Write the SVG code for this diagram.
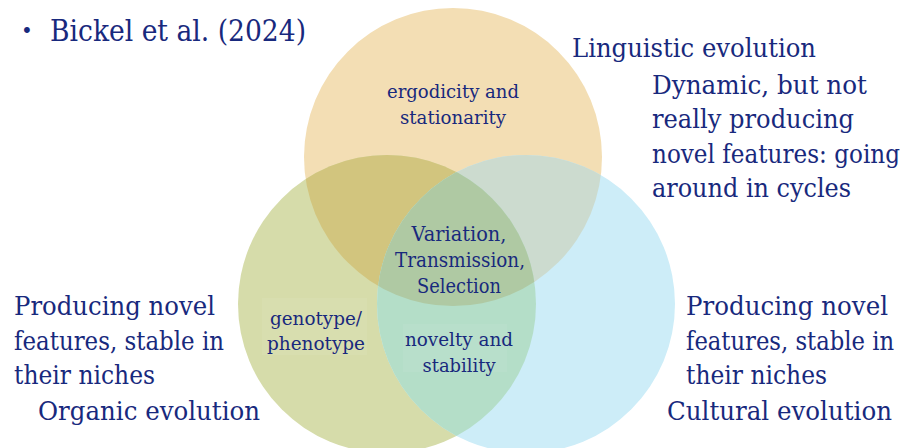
<svg xmlns="http://www.w3.org/2000/svg" width="910" height="448" viewBox="0 0 910 448">
  <style>
    text { font-family: 'DejaVu Serif', 'Liberation Serif', 'Noto Serif', serif; fill: #18297d; }
    .big { font-size: 26px; }
    .head { font-size: 30px; }
    .mid { font-size: 20px; }
    .small { font-size: 18px; }
    .c { text-anchor: middle; }
  </style>
  <defs>
    <clipPath id="clipTop"><circle cx="453" cy="157" r="149"/></clipPath>
    <clipPath id="clipLeft"><circle cx="387" cy="304" r="149"/></clipPath>
  </defs>
  <rect width="910" height="448" fill="#ffffff"/>

  <!-- Venn circles -->
  <g id="circle-linguistic">
    <circle cx="453" cy="157" r="149" fill="#f3deb4"/>
  </g>
  <g id="circle-organic">
    <circle cx="387" cy="304" r="149" fill="#d6dcaa"/>
  </g>
  <g id="circle-cultural">
    <circle cx="526" cy="304" r="149" fill="#cdedf8"/>
  </g>

  <!-- overlap regions -->
  <g id="overlaps">
    <circle cx="387" cy="304" r="149" fill="#d2c57e" clip-path="url(#clipTop)"/>
    <circle cx="526" cy="304" r="149" fill="#ccdbcf" clip-path="url(#clipTop)"/>
    <circle cx="526" cy="304" r="149" fill="#b4dec8" clip-path="url(#clipLeft)"/>
    <g clip-path="url(#clipTop)">
      <circle cx="526" cy="304" r="149" fill="#afc9a3" clip-path="url(#clipLeft)"/>
    </g>
  </g>

  <!-- faint text boxes -->
  <g id="label-boxes" fill="#ffffff" fill-opacity="0.06">
    <rect x="262" y="298" width="105" height="57"/>
    <rect x="403" y="324" width="104" height="48"/>
  </g>

  <!-- inner labels -->
  <g id="label-linguistic">
    <text class="small c" x="453" y="98" textLength="132" lengthAdjust="spacingAndGlyphs">ergodicity and</text>
    <text class="small c" x="453" y="124" textLength="106" lengthAdjust="spacingAndGlyphs">stationarity</text>
  </g>
  <g id="label-center">
    <text class="mid c" x="459" y="241" textLength="95" lengthAdjust="spacingAndGlyphs">Variation,</text>
    <text class="mid c" x="460" y="267" textLength="130" lengthAdjust="spacingAndGlyphs">Transmission,</text>
    <text class="mid c" x="459" y="293" textLength="84" lengthAdjust="spacingAndGlyphs">Selection</text>
  </g>
  <g id="label-organic">
    <text class="small c" x="316" y="325" textLength="92" lengthAdjust="spacingAndGlyphs">genotype/</text>
    <text class="small c" x="316" y="350" textLength="98" lengthAdjust="spacingAndGlyphs">phenotype</text>
  </g>
  <g id="label-cultural">
    <text class="small c" x="459" y="346" textLength="108" lengthAdjust="spacingAndGlyphs">novelty and</text>
    <text class="small c" x="459" y="372" textLength="73" lengthAdjust="spacingAndGlyphs">stability</text>
  </g>

  <!-- title -->
  <g id="title">
    <text x="21" y="38" font-size="20">•</text>
    <text class="head" x="50" y="41" textLength="256" lengthAdjust="spacingAndGlyphs">Bickel et al. (2024)</text>
  </g>

  <!-- outer descriptions -->
  <g id="desc-linguistic">
    <text class="big" x="572" y="57" textLength="244" lengthAdjust="spacingAndGlyphs">Linguistic evolution</text>
    <text class="big" x="652" y="94" textLength="215" lengthAdjust="spacingAndGlyphs">Dynamic, but not</text>
    <text class="big" x="652" y="128" textLength="202" lengthAdjust="spacingAndGlyphs">really producing</text>
    <text class="big" x="652" y="163" textLength="248" lengthAdjust="spacingAndGlyphs">novel features: going</text>
    <text class="big" x="652" y="197" textLength="199" lengthAdjust="spacingAndGlyphs">around in cycles</text>
  </g>
  <g id="desc-organic">
    <text class="big" x="14" y="315" textLength="201" lengthAdjust="spacingAndGlyphs">Producing novel</text>
    <text class="big" x="14" y="350" textLength="210" lengthAdjust="spacingAndGlyphs">features, stable in</text>
    <text class="big" x="14" y="384" textLength="141" lengthAdjust="spacingAndGlyphs">their niches</text>
    <text class="big" x="38" y="420" textLength="222" lengthAdjust="spacingAndGlyphs">Organic evolution</text>
  </g>
  <g id="desc-cultural">
    <text class="big" x="686" y="315" textLength="202" lengthAdjust="spacingAndGlyphs">Producing novel</text>
    <text class="big" x="686" y="350" textLength="208" lengthAdjust="spacingAndGlyphs">features, stable in</text>
    <text class="big" x="686" y="384" textLength="141" lengthAdjust="spacingAndGlyphs">their niches</text>
    <text class="big" x="667" y="420" textLength="225" lengthAdjust="spacingAndGlyphs">Cultural evolution</text>
  </g>
</svg>
